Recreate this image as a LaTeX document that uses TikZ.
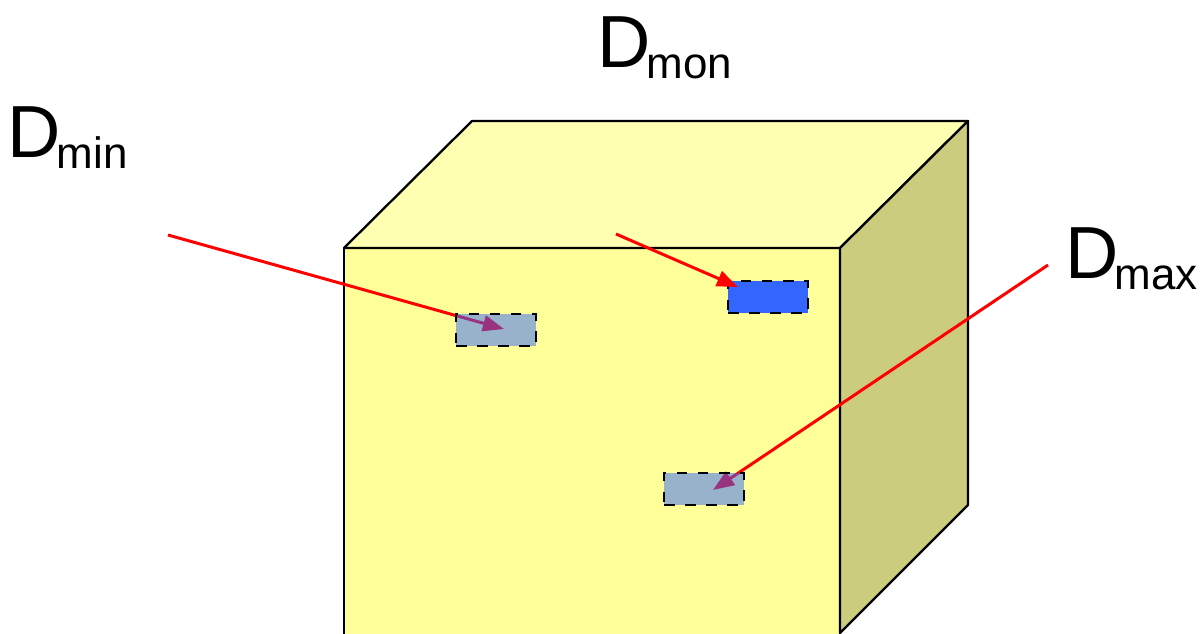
\documentclass[tikz,border=0pt]{standalone}
\usepackage{fontspec}
\setmainfont{Liberation Sans}
\usetikzlibrary{arrows.meta}
\definecolor{frontc}{RGB}{255,255,153}
\definecolor{topc}{RGB}{255,255,178}
\definecolor{sidec}{RGB}{204,204,127}
\definecolor{winblue}{RGB}{51,102,255}
\newcommand{\lab}[1]{D\kern-1.2pt{\fontsize{12.5}{15}\selectfont\raisebox{-3.2pt}{#1}}}
\begin{document}
\begin{tikzpicture}[x=0.01cm,y=-0.01cm,
  face/.style={draw=black,line width=0.65pt,line join=round},
  ptr/.style={draw=red,line width=0.85pt,-{Triangle[length=6pt,width=4.5pt]}},
  win/.style={draw=black,dashed,line width=0.5pt,fill=winblue,minimum width=0.8cm,minimum height=0.32cm,inner sep=0pt},
  lbl/.style={inner sep=0pt,anchor=base west,font=\fontsize{21}{24}\selectfont}]
\useasboundingbox (0,0) rectangle (1200,633);
% cube
\coordinate (ftl) at (344,248);
\coordinate (ftr) at (840,248);
\coordinate (fbl) at (344,640);
\coordinate (fbr) at (840,633);
\coordinate (btl) at (472,121);
\coordinate (btr) at (968,121);
\coordinate (bbr) at (968,505);
\fill[frontc] (344,248) rectangle (840,640);
\draw[face] (344,640) -- (ftl) -- (ftr) -- (840,640);
\filldraw[face,fill=topc] (ftl) -- (btl) -- (btr) -- (ftr) -- cycle;
\filldraw[face,fill=sidec] (ftr) -- (btr) -- (bbr) -- (fbr) -- cycle;
% labels
\node[lbl] (lmin) at (7,157) {\lab{min}};
\node[lbl] (lmon) at (597,67) {\lab{mon}};
\node[lbl] (lmax) at (1065,278) {\lab{max}};
% arrow ends
\coordinate (smin) at (168,235);
\coordinate (tmin) at (504,329);
\coordinate (smon) at (616,234);
\coordinate (tmon) at (738,287);
\coordinate (smax) at (1048,265);
\coordinate (tmax) at (713,490);
\draw[ptr] (smin) -- (tmin);
\draw[ptr] (smax) -- (tmax);
% windows
\node[win,fill opacity=0.5,text opacity=1] (wmin) at (496,330) {};
\node[win,fill opacity=0.5,text opacity=1] (wmax) at (704,489) {};
\node[win] (wmon) at (768,297) {};
\draw[ptr] (smon) -- (tmon);
\end{tikzpicture}
\end{document}
